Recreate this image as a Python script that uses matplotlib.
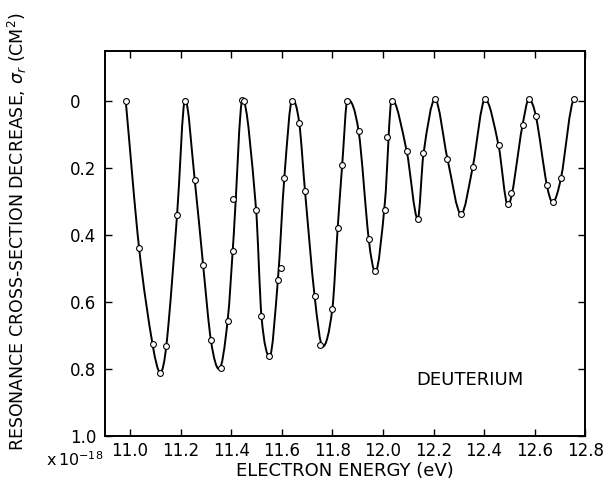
import numpy as np
import matplotlib
matplotlib.use("Agg")
import matplotlib.pyplot as plt
from matplotlib.path import Path
from matplotlib.patches import PathPatch

# measured points (open circles)
energy_pts = [10.983, 11.036, 11.091, 11.119, 11.141, 11.186, 11.218, 11.256, 11.289,
              11.321, 11.358, 11.386, 11.406, 11.408, 11.441, 11.450, 11.498, 11.519,
              11.550, 11.584, 11.595, 11.610, 11.640, 11.669, 11.692, 11.730, 11.752,
              11.800, 11.821, 11.839, 11.859, 11.904, 11.944, 11.970, 12.010, 12.015,
              12.035, 12.094, 12.138, 12.160, 12.206, 12.255, 12.309, 12.355, 12.404,
              12.457, 12.494, 12.507, 12.552, 12.577, 12.605, 12.648, 12.671, 12.704,
              12.757]
sigma_pts = [0.000, 0.440, 0.726, 0.813, 0.730, 0.340, 0.000, 0.237, 0.488,
             0.714, 0.798, 0.657, 0.293, 0.448, -0.003, 0.000, 0.324, 0.642,
             0.761, 0.535, 0.497, 0.230, 0.000, 0.065, 0.270, 0.583, 0.728,
             0.620, 0.380, 0.190, 0.000, 0.091, 0.413, 0.508, 0.324, 0.107,
             0.000, 0.150, 0.351, 0.154, -0.005, 0.172, 0.336, 0.197, -0.005,
             0.132, 0.308, 0.274, 0.072, -0.005, 0.046, 0.251, 0.301, 0.230,
             -0.005]

# knots of the hand-drawn curve
curve_x = [10.983, 11.036, 11.090, 11.120, 11.145, 11.186, 11.218, 11.256, 11.289,
           11.320, 11.352, 11.386, 11.410, 11.445, 11.498, 11.520, 11.552, 11.585,
           11.610, 11.642, 11.669, 11.692, 11.730, 11.762, 11.800, 11.821, 11.839,
           11.860, 11.904, 11.944, 11.970, 12.008, 12.035, 12.094, 12.138, 12.160,
           12.206, 12.255, 12.309, 12.355, 12.404, 12.457, 12.494, 12.552, 12.577,
           12.605, 12.648, 12.671, 12.704, 12.757]
curve_y = [0.000, 0.440, 0.730, 0.810, 0.720, 0.340, -0.005, 0.237, 0.490,
           0.715, 0.800, 0.655, 0.400, -0.005, 0.320, 0.645, 0.762, 0.530,
           0.230, -0.005, 0.065, 0.270, 0.583, 0.733, 0.620, 0.380, 0.190,
           -0.005, 0.091, 0.413, 0.510, 0.300, -0.005, 0.150, 0.352, 0.160,
           -0.005, 0.172, 0.337, 0.197, -0.005, 0.132, 0.310, 0.072, -0.005,
           0.046, 0.250, 0.302, 0.230, -0.005]

xticks = [11.0, 11.2, 11.4, 11.6, 11.8, 12.0, 12.2, 12.4, 12.6, 12.8]
yticks = [0, 0.2, 0.4, 0.6, 0.8, 1.0]
ytick_labels = ["0", "0.2", "0.4", "0.6", "0.8", "1.0"]


def smooth_path(xs, ys):
    # central-difference tangents, flat at the turning points -> Bezier segments
    xs = np.asarray(xs, float)
    ys = np.asarray(ys, float)
    h = np.diff(xs)
    d = np.diff(ys) / h
    m = np.zeros_like(xs)
    for i in range(1, len(xs) - 1):
        if d[i - 1] * d[i] > 0:
            m[i] = (ys[i + 1] - ys[i - 1]) / (xs[i + 1] - xs[i - 1])
    m[0] = d[0]
    m[-1] = 0.0
    verts = [(xs[0], ys[0])]
    codes = [Path.MOVETO]
    for i in range(len(xs) - 1):
        verts += [(xs[i] + h[i] / 3, ys[i] + m[i] * h[i] / 3),
                  (xs[i + 1] - h[i] / 3, ys[i + 1] - m[i + 1] * h[i] / 3),
                  (xs[i + 1], ys[i + 1])]
        codes += [Path.CURVE4] * 3
    return Path(verts, codes)


fig = plt.figure(figsize=(6.09, 4.83), dpi=100)
ax = fig.add_axes([0.172, 0.097, 0.789, 0.798])

ax.add_patch(PathPatch(smooth_path(curve_x, curve_y), fill=False,
                       edgecolor="black", linewidth=1.4))
ax.plot(energy_pts, sigma_pts, "o", markersize=4.2, markerfacecolor="white",
        markeredgecolor="black", markeredgewidth=0.8, zorder=3)

ax.set_xlim(10.9, 12.8)
ax.set_ylim(1.0, -0.15)
ax.set_xticks(xticks)
ax.set_xticklabels([f"{t:.1f}" for t in xticks])
ax.set_yticks(yticks)
ax.set_yticklabels(ytick_labels)
for lab in ax.get_yticklabels():
    lab.set_horizontalalignment("left")

ax.tick_params(direction="in", length=5, width=1.0, labelsize=12,
               top=True, right=True)
ax.tick_params(axis="y", pad=25)
ax.tick_params(axis="x", pad=4)
for s in ax.spines.values():
    s.set_linewidth(1.4)

ax.set_xlabel("ELECTRON ENERGY (eV)", fontsize=13, labelpad=2)
fig.text(17 / 609, 1 - 232 / 483,
         r"RESONANCE CROSS-SECTION DECREASE, $\sigma_r$ (CM$^2$)",
         rotation=90, ha="center", va="center", fontsize=12.5)
fig.text(46 / 609, 1 - 460 / 483, r"x$\,10^{-18}$", ha="left", va="center",
         fontsize=11.5)
ax.text(12.345, 0.833, "DEUTERIUM", ha="center", va="center", fontsize=13)

fig.savefig("out.png", dpi=100)
